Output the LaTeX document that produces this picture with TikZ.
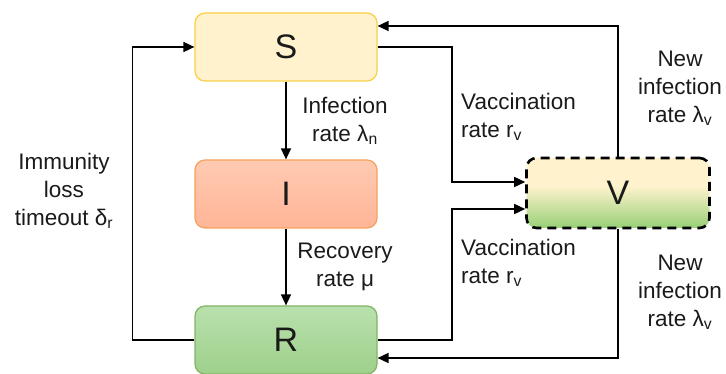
\documentclass[tikz,border=0pt]{standalone}
\usepackage{fontspec}
\setmainfont{Liberation Sans}
\usetikzlibrary{arrows.meta,calc}
\definecolor{sfill}{HTML}{FFF2CC}
\definecolor{sdraw}{HTML}{F9CF45}
\definecolor{itop}{HTML}{FFCAB2}
\definecolor{ibot}{HTML}{FFB597}
\definecolor{idraw}{HTML}{F5A25D}
\definecolor{rtop}{HTML}{B9E1AD}
\definecolor{rbot}{HTML}{9ED08B}
\definecolor{rdraw}{HTML}{82B366}
\definecolor{vgreen}{HTML}{97D077}
\definecolor{vcream}{HTML}{FFF2CC}
\definecolor{txt}{HTML}{1A1A1A}
\pgfdeclareverticalshading{vshade}{100bp}{color(0bp)=(vgreen); color(25bp)=(vgreen); color(55bp)=(vcream); color(100bp)=(vcream)}
\tikzset{
  box/.style={minimum width=182pt, minimum height=68pt, rounded corners=10pt,
    line width=1.2pt, inner sep=0pt, font=\fontsize{34}{40}\selectfont, text=txt},
  arr/.style={line width=1.6pt, -{Triangle[length=11pt,width=10pt]}},
  lbl/.style={font=\fontsize{22.5}{28}\selectfont, text=txt, inner sep=0pt, align=center},
  lbll/.style={lbl, align=left, anchor=west}
}
\begin{document}
\begin{tikzpicture}[x=1pt,y=-1pt]
\useasboundingbox (0,0) rectangle (726,374);
\node[box, fill=sfill, draw=sdraw] (S) at (286,47) {S};
\node[box, top color=itop, bottom color=ibot, draw=idraw] (I) at (286,194) {I};
\node[box, top color=rtop, bottom color=rbot, draw=rdraw] (R) at (286,340) {R};
\node[box, minimum width=183pt, minimum height=70pt, shading=vshade, draw=black, dashed, line width=2.6pt, dash pattern=on 9pt off 6pt] (V) at (618,193) {V};

\draw[arr] (S) -- (I);
\draw[arr] (I) -- (R);
\draw[arr] (R.west) -- ++(-62,0) |- (S.west);
\draw[arr] (S.east) -- (452,47) |- ($(V.west)+(0,-11)$);
\draw[arr] (R.east) -- (452,340) |- ($(V.west)+(0,16)$);
\draw[arr] (V.north) |- ($(S.east)+(0,-21)$);
\draw[arr] (V.south) |- ($(R.east)+(0,18)$);

\node[lbl] (l1) at (345,121) {Infection\\rate λ\textsubscript{n}};
\node[lbl] (l2) at (345,267) {Recovery\\rate μ};
\node[lbll] (l3) at (461,117) {Vaccination\\rate r\textsubscript{v}};
\node[lbll] (l4) at (461,263) {Vaccination\\rate r\textsubscript{v}};
\node[lbl] (l5) at (680,88) {New\\infection\\rate λ\textsubscript{v}};
\node[lbl] (l6) at (680,292) {New\\infection\\rate λ\textsubscript{v}};
\node[lbl] (l7) at (64,191) {Immunity\\loss\\timeout δ\textsubscript{r}};
\end{tikzpicture}
\end{document}
